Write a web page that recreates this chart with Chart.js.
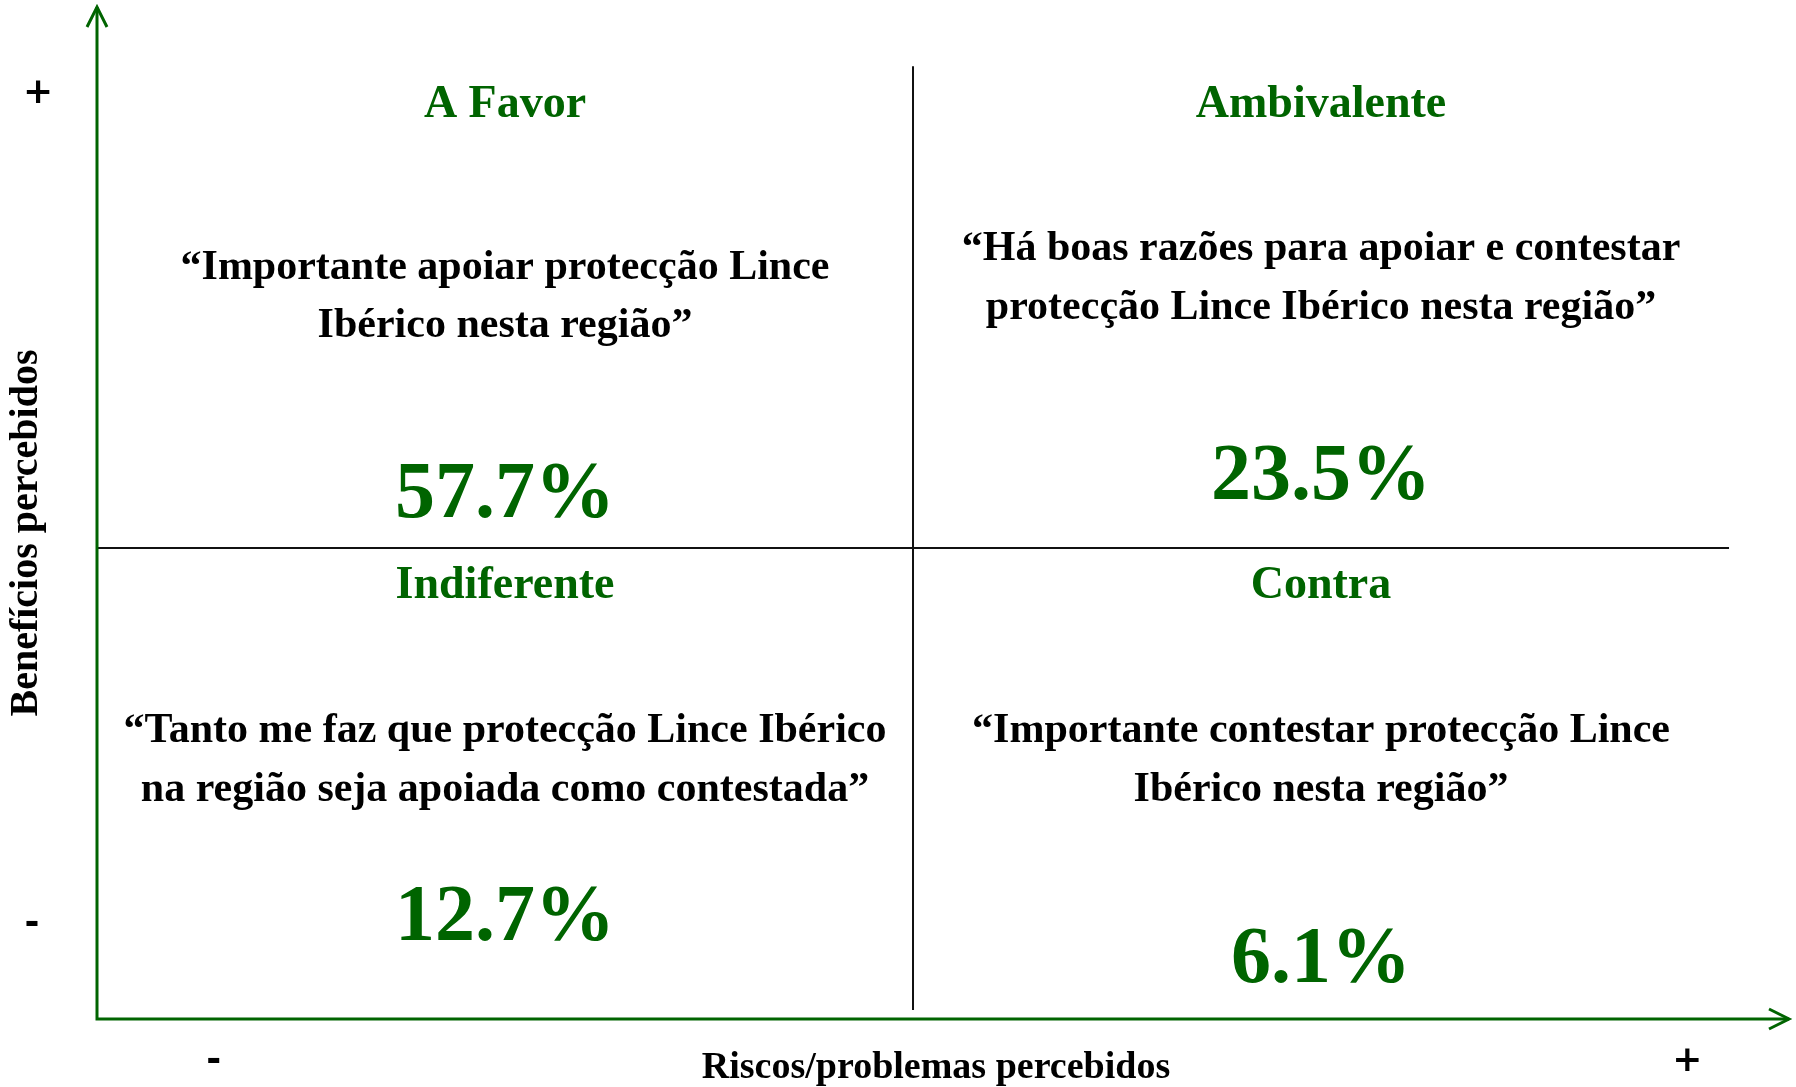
<!DOCTYPE html>
<html>
<head>
<meta charset="utf-8">
<script src="https://cdn.jsdelivr.net/npm/chart.js@4.4.0/dist/chart.umd.min.js"></script>
<style>
  html, body { margin: 0; padding: 0; background: #fff; }
  #wrap { width: 1796px; height: 1087px; }
</style>
</head>
<body>
<div id="wrap"><canvas id="quad"></canvas></div>
<script>
// quadrant data (x = risks low/high, y = benefits low/high)
var quadrantNames = ['A Favor', 'Ambivalente', 'Indiferente', 'Contra'];
var quadrantRisk = [0.5, 1.5, 0.5, 1.5];
var quadrantBenefit = [1.5, 1.5, 0.5, 0.5];
var quadrantShares = [57.7, 23.5, 12.7, 6.1];
var quadrantQuotes = [
    ['\u201CImportante apoiar protecção Lince', 'Ibérico nesta região\u201D'],
    ['\u201CHá boas razões para apoiar e contestar', 'protecção Lince Ibérico nesta região\u201D'],
    ['\u201CTanto me faz que protecção Lince Ibérico', 'na região seja apoiada como contestada\u201D'],
    ['\u201CImportante contestar protecção Lince', 'Ibérico nesta região\u201D']
];
var axisTickLabels = ['-', '+'];
var xAxisTitle = 'Riscos/problemas percebidos';
var yAxisTitle = 'Benefícios percebidos';

var green = '#006400';
var serif = '"Liberation Serif", "Times New Roman", serif';

// text offsets (px) from each quadrant centre
var layout = [
    { title: -207, quote: [-44, 14], pct: 184 },
    { title: -207, quote: [-63, -4], pct: 166 },
    { title: -197, quote: [-52, 7], pct: 136 },
    { title: -197, quote: [-52, 7], pct: 178 }
];

var quadrantPlugin = {
    id: 'quadrantPlugin',
    afterDraw: function(chart) {
        var ctx = chart.ctx;
        var xs = chart.scales.x, ys = chart.scales.y;
        var x0 = xs.getPixelForValue(0), y0 = ys.getPixelForValue(0);
        var xMid = xs.getPixelForValue(1), yMid = ys.getPixelForValue(1);
        var xEnd = xs.getPixelForValue(xs.max), yEnd = ys.getPixelForValue(ys.max);

        ctx.save();
        // dividers
        ctx.strokeStyle = '#111';
        ctx.lineWidth = 2;
        ctx.beginPath();
        ctx.moveTo(xMid, ys.getPixelForValue(2.023));
        ctx.lineTo(xMid, ys.getPixelForValue(0.019));
        ctx.moveTo(x0, yMid);
        ctx.lineTo(xs.getPixelForValue(2), yMid);
        ctx.stroke();

        // axes with arrows
        ctx.strokeStyle = green;
        ctx.lineWidth = 3;
        ctx.beginPath();
        ctx.moveTo(x0, yEnd);
        ctx.lineTo(x0, y0);
        ctx.lineTo(xEnd, y0);
        ctx.stroke();
        ctx.beginPath();
        ctx.moveTo(x0 - 10, yEnd + 20);
        ctx.lineTo(x0, yEnd);
        ctx.lineTo(x0 + 10, yEnd + 20);
        ctx.moveTo(xEnd - 20, y0 - 10);
        ctx.lineTo(xEnd, y0);
        ctx.lineTo(xEnd - 20, y0 + 10);
        ctx.stroke();

        // axis tick labels
        ctx.fillStyle = '#000';
        ctx.textAlign = 'center';
        ctx.textBaseline = 'middle';
        ctx.font = 'bold 36px "DejaVu Sans", sans-serif';
        ctx.fillText(axisTickLabels[1], 38, ys.getPixelForValue(1.964));
        ctx.fillText(axisTickLabels[0], 32, ys.getPixelForValue(0.2));
        ctx.fillText(axisTickLabels[0], xs.getPixelForValue(0.143), 1062);
        ctx.fillText(axisTickLabels[1], xs.getPixelForValue(1.949), 1062);

        // axis titles
        ctx.font = 'bold 38px ' + serif;
        ctx.fillText(xAxisTitle, 936, 1068);
        ctx.save();
        ctx.translate(27, 533);
        ctx.rotate(-Math.PI / 2);
        ctx.font = 'bold 40px ' + serif;
        ctx.fillText(yAxisTitle, 0, 0);
        ctx.restore();

        // quadrant texts
        var meta = chart.getDatasetMeta(0);
        meta.data.forEach(function(pt, i) {
            var L = layout[i];
            ctx.fillStyle = green;
            ctx.font = 'bold 46px ' + serif;
            ctx.fillText(quadrantNames[i], pt.x, pt.y + L.title);
            ctx.fillStyle = '#000';
            ctx.font = 'bold 42px ' + serif;
            quadrantQuotes[i].forEach(function(line, j) {
                ctx.fillText(line, pt.x, pt.y + L.quote[j]);
            });
            ctx.fillStyle = green;
            ctx.font = 'bold 80px ' + serif;
            ctx.fillText(quadrantShares[i].toFixed(1) + '%', pt.x, pt.y + L.pct);
        });
        ctx.restore();
    }
};

new Chart(document.getElementById('quad'), {
    type: 'scatter',
    data: {
        datasets: [{
            data: quadrantRisk.map(function(r, i) { return { x: r, y: quadrantBenefit[i] }; }),
            pointRadius: 0
        }]
    },
    options: {
        responsive: true,
        maintainAspectRatio: false,
        animation: false,
        layout: { padding: { left: 97, top: 7, right: 7, bottom: 68 } },
        plugins: { legend: { display: false }, tooltip: { enabled: false } },
        scales: {
            x: {
                min: 0, max: 2.0735,
                ticks: { display: false },
                grid: { display: false },
                border: { display: false },
                afterFit: function(s) { s.height = 0; }
            },
            y: {
                min: 0, max: 2.1486,
                ticks: { display: false },
                grid: { display: false },
                border: { display: false },
                afterFit: function(s) { s.width = 0; }
            }
        }
    },
    plugins: [quadrantPlugin]
});
</script>
</body>
</html>
